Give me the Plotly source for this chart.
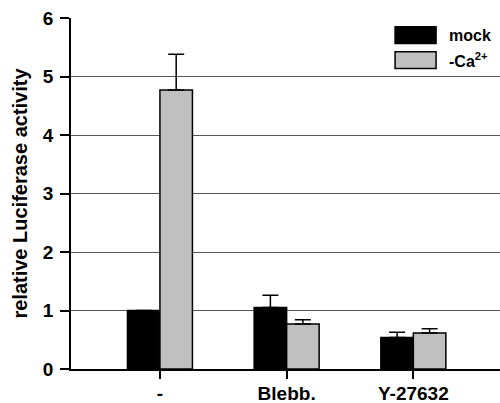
import plotly.graph_objects as go

categories = ["-", "Blebb.", "Y-27632"]
mock_values = [1.0, 1.05, 0.54]
mock_errors = [0.0, 0.21, 0.09]
ca_values = [4.77, 0.77, 0.615]
ca_errors = [0.61, 0.07, 0.075]
y_ticks = [0, 1, 2, 3, 4, 5, 6]

FONT = "Liberation Sans"

fig = go.Figure()
fig.add_trace(go.Bar(
    x=categories, y=mock_values, name="mock",
    marker=dict(color="black", line=dict(color="black", width=1.5)),
    error_y=dict(type="data", array=mock_errors, arrayminus=[0]*3, symmetric=False,
                 color="black", thickness=1.5, width=8),
    showlegend=False,
))
fig.add_trace(go.Bar(
    x=categories, y=ca_values, name="-Ca<sup>2+</sup>",
    marker=dict(color="#c0c0c0", line=dict(color="black", width=1.5)),
    error_y=dict(type="data", array=ca_errors, arrayminus=[0]*3, symmetric=False,
                 color="black", thickness=1.5, width=8),
    showlegend=False,
))

# legend drawn manually
leg = [("black", "<b>mock</b>", 0.975, 0.927), ("#c0c0c0", "<b>-Ca<sup>2+</sup></b>", 0.904, 0.856)]
for col, label, y1, y0 in leg:
    fig.add_shape(type="rect", xref="paper", yref="paper", x0=0.7554, x1=0.851, y0=y0, y1=y1,
                  fillcolor=col, line=dict(color="black", width=1.5))
    fig.add_annotation(xref="paper", yref="paper", x=0.876, y=(y0 + y1) / 2, text=label,
                       showarrow=False, xanchor="left", yanchor="middle",
                       font=dict(family=FONT, size=16, color="black"))

fig.update_layout(
    width=500, height=403,
    margin=dict(l=71, r=0, t=18, b=34, pad=0),
    paper_bgcolor="white", plot_bgcolor="white",
    barmode="group", bargap=0.487, bargroupgap=0,
    font=dict(family=FONT, color="black"),
    xaxis=dict(
        type="category", range=[-0.702, 2.684], automargin=False,
        showline=True, linecolor="black", linewidth=2,
        ticks="outside", ticklen=8, tickwidth=1.5, tickcolor="black",
        ticklabelstandoff=-2,
        tickfont=dict(family=FONT, size=19, color="black", weight="bold"),
        showgrid=False, zeroline=False,
    ),
    yaxis=dict(
        range=[0, 6], tickvals=y_ticks, automargin=False,
        showline=True, linecolor="black", linewidth=1.5,
        ticks="outside", ticklen=9, tickwidth=1.5, tickcolor="black",
        ticklabelstandoff=3,
        tickfont=dict(family=FONT, size=19, color="black", weight="bold"),
        showgrid=True, gridcolor="#555555", gridwidth=1,
        zeroline=False,
        title=dict(text="relative Luciferase activity", standoff=10,
                   font=dict(family=FONT, size=20, color="black", weight="bold")),
    ),
)

fig.write_html("out.html", config={"displayModeBar": False},
               post_script="document.body.style.margin='0';")
